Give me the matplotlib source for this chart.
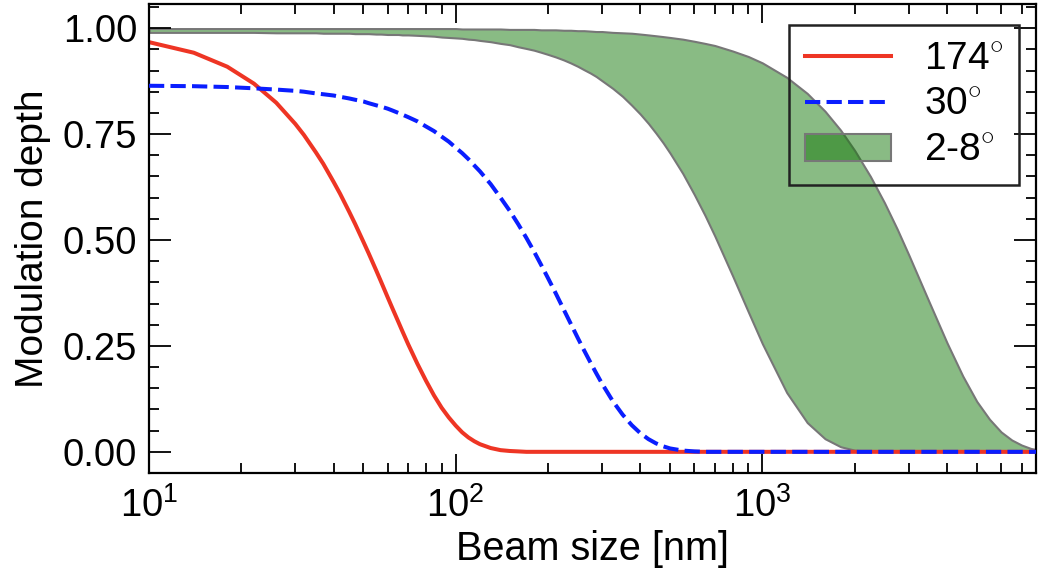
import math
import matplotlib
matplotlib.use("Agg")
import matplotlib.pyplot as plt
from matplotlib.ticker import FixedLocator, FuncFormatter, FormatStrFormatter, LogLocator, MultipleLocator, NullFormatter

plt.rcParams['font.family'] = ['Liberation Sans', 'DejaVu Sans']
plt.rcParams['mathtext.fontset'] = 'custom'
plt.rcParams['mathtext.rm'] = 'Liberation Sans'
plt.rcParams['mathtext.it'] = 'Liberation Sans:italic'
plt.rcParams['mathtext.bf'] = 'Liberation Sans:bold'
plt.rcParams['lines.scale_dashes'] = False

# beam size [nm] and modulation depth
beam_size = [10, 14, 18, 22, 26, 30,
             32, 35, 37, 40, 42, 45, 47, 50, 52, 55, 57, 60, 62, 65, 67, 70,
             75, 80, 85, 90, 95, 100,
             105, 110, 115, 120, 130, 140, 150, 160, 170, 180, 190, 200,
             212, 225, 237, 250, 262, 275, 287, 300,
             325, 350, 375, 400, 425, 450, 475, 500,
             550, 600, 650, 700, 800, 900, 1000,
             1200, 1400, 1600, 1800, 2000,
             2250, 2500, 2750, 3000,
             3500, 4000, 4500, 5000, 5500, 6000, 6500, 7000, 7500, 8000]

depth_174 = [0.967, 0.942, 0.909, 0.869, 0.824, 0.774,
             0.748, 0.707, 0.680, 0.637, 0.609, 0.566, 0.538, 0.496, 0.469, 0.429, 0.403, 0.365, 0.341, 0.307, 0.285, 0.254,
             0.208, 0.168, 0.133, 0.104, 0.081, 0.062,
             0.046, 0.034, 0.025, 0.018, 0.009, 0.004, 0.002, 0.001, 0.0, 0.0, 0.0, 0.0,
             0.0, 0.0, 0.0, 0.0, 0.0, 0.0, 0.0, 0.0,
             0.0, 0.0, 0.0, 0.0, 0.0, 0.0, 0.0, 0.0,
             0.0, 0.0, 0.0, 0.0, 0.0, 0.0, 0.0,
             0.0, 0.0, 0.0, 0.0, 0.0,
             0.0, 0.0, 0.0, 0.0,
             0.0, 0.0, 0.0, 0.0, 0.0, 0.0, 0.0, 0.0, 0.0, 0.0]

depth_30 = [0.864, 0.863, 0.861, 0.858, 0.855, 0.852,
            0.850, 0.846, 0.844, 0.841, 0.838, 0.834, 0.831, 0.827, 0.823, 0.818, 0.815, 0.810, 0.806, 0.800, 0.796, 0.790,
            0.780, 0.768, 0.757, 0.744, 0.732, 0.718,
            0.705, 0.691, 0.676, 0.662, 0.632, 0.600, 0.569, 0.537, 0.505, 0.473, 0.441, 0.410,
            0.374, 0.336, 0.303, 0.269, 0.240, 0.211, 0.186, 0.161,
            0.120, 0.088, 0.063, 0.044, 0.030, 0.020, 0.013, 0.008,
            0.003, 0.001, 0.0, 0.0, 0.0, 0.0, 0.0,
            0.0, 0.0, 0.0, 0.0, 0.0,
            0.0, 0.0, 0.0, 0.0,
            0.0, 0.0, 0.0, 0.0, 0.0, 0.0, 0.0, 0.0, 0.0, 0.0]

# lower (8 deg) and upper (2 deg) edges of the shaded band
depth_8 = [0.990, 0.990, 0.990, 0.990, 0.989, 0.989,
           0.989, 0.989, 0.988, 0.988, 0.988, 0.988, 0.987, 0.987, 0.987, 0.986, 0.986, 0.985, 0.985, 0.985, 0.984, 0.984,
           0.983, 0.982, 0.981, 0.979, 0.978, 0.977,
           0.976, 0.974, 0.973, 0.971, 0.968, 0.964, 0.961, 0.956, 0.952, 0.948, 0.943, 0.938,
           0.932, 0.925, 0.918, 0.910, 0.902, 0.894, 0.886, 0.876,
           0.858, 0.839, 0.818, 0.797, 0.775, 0.752, 0.729, 0.705,
           0.657, 0.607, 0.558, 0.509, 0.415, 0.330, 0.255,
           0.140, 0.069, 0.031, 0.012, 0.004,
           0.001, 0.0, 0.0, 0.0,
           0.0, 0.0, 0.0, 0.0, 0.0, 0.0, 0.0, 0.0, 0.0, 0.0]

depth_2 = [0.999, 0.999, 0.999, 0.999, 0.999, 0.999,
           0.999, 0.999, 0.999, 0.999, 0.999, 0.999, 0.999, 0.999, 0.999, 0.999, 0.999, 0.999, 0.999, 0.999, 0.999, 0.999,
           0.999, 0.999, 0.999, 0.999, 0.999, 0.999,
           0.998, 0.998, 0.998, 0.998, 0.998, 0.998, 0.997, 0.997, 0.997, 0.997, 0.996, 0.996,
           0.996, 0.995, 0.995, 0.994, 0.994, 0.993, 0.992, 0.992,
           0.990, 0.989, 0.988, 0.986, 0.984, 0.982, 0.980, 0.978,
           0.974, 0.969, 0.964, 0.959, 0.946, 0.933, 0.918,
           0.884, 0.846, 0.804, 0.759, 0.711,
           0.650, 0.588, 0.526, 0.465,
           0.353, 0.257, 0.179, 0.119, 0.077, 0.047, 0.028, 0.016, 0.008, 0.004]

labels = ['174$^{\\circ}$', '30$^{\\circ}$', '2-8$^{\\circ}$']
x_major = [10, 100, 1000]

fig = plt.figure(figsize=(10.38, 5.71), dpi=100)
ax = fig.add_axes([0.1435, 0.1716, 0.8546, 0.8214])

band = ax.fill_between(beam_size, depth_8, depth_2, facecolor=(0.08, 0.47, 0.04, 0.5),
                       edgecolor='#777777', linewidth=1.5, zorder=1)
red, = ax.plot(beam_size, depth_174, color='#ee3524', lw=2.9, zorder=2)
blue, = ax.plot(beam_size, depth_30, color='#0a1eff', lw=2.9, dashes=(11, 4.5), zorder=3)

ax.set_xscale('log')
ax.set_xlim(10, 7800)
ax.set_ylim(-0.05, 1.057)

ax.xaxis.set_major_locator(FixedLocator(x_major))
ax.xaxis.set_major_formatter(FuncFormatter(lambda v, p: '$\\mathregular{10^{%d}}$' % round(math.log10(v))))
ax.xaxis.set_minor_locator(LogLocator(base=10, subs=[2, 3, 4, 5, 6, 7, 8, 9]))
ax.xaxis.set_minor_formatter(NullFormatter())
ax.yaxis.set_major_locator(MultipleLocator(0.25))
ax.yaxis.set_minor_locator(MultipleLocator(0.05))
ax.yaxis.set_major_formatter(FormatStrFormatter('%.2f'))

for s in ax.spines.values():
    s.set_linewidth(1.6)

ax.tick_params(which='both', direction='in', top=True, right=True, width=1.3, labelsize=27.5)
ax.tick_params(axis='x', which='major', length=13.7, pad=10)
ax.tick_params(axis='y', which='major', length=16, pad=8.6)
ax.tick_params(which='minor', length=7.2)

ax.set_xlabel('Beam size [nm]', fontsize=28.5, labelpad=4)
ax.set_ylabel('Modulation depth', fontsize=28, labelpad=8)

leg = ax.legend([red, blue, band], labels, loc='upper right', bbox_to_anchor=(0.981, 0.955),
                fontsize=28, frameon=True, fancybox=False, edgecolor='#222222', facecolor='none',
                framealpha=1, handlelength=2.2, handletextpad=0.85, labelspacing=0.25,
                borderpad=0.42, borderaxespad=0)
leg.get_frame().set_linewidth(1.8)

fig.savefig('out.png', dpi=100)
